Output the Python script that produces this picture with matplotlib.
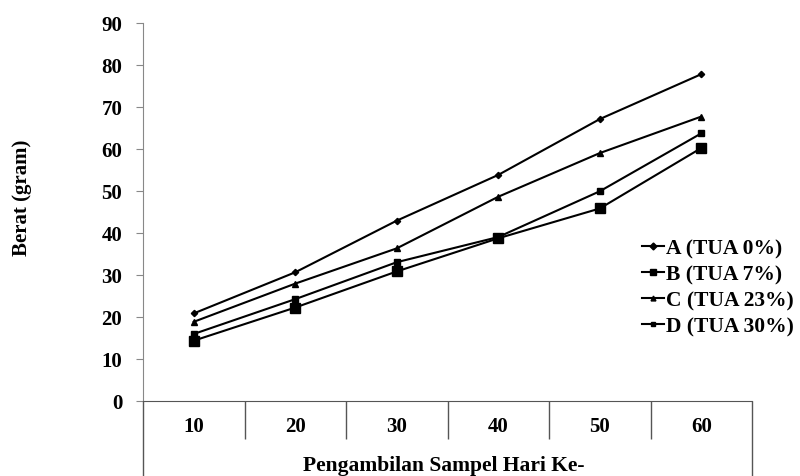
import numpy as np
import matplotlib.pyplot as plt

plt.rcParams['font.family'] = ['Liberation Serif', 'DejaVu Serif']
plt.rcParams['font.weight'] = 'bold'

hari = ['10', '20', '30', '40', '50', '60']
a_tua0 = [20.8, 30.6, 42.9, 53.8, 67.1, 77.8]
b_tua7 = [14.3, 22.2, 30.8, 38.7, 45.8, 60.2]
c_tua23 = [18.8, 27.9, 36.3, 48.6, 59.0, 67.7]
d_tua30 = [15.9, 24.2, 33.0, 39.0, 49.9, 63.7]

fig = plt.figure(figsize=(8, 4.77), dpi=100)
ax = fig.add_axes([143/800, (477-401.7)/477, (752-143)/800, (401.7-24)/477])

x = np.arange(len(hari)) + 0.5
ax.plot(x, a_tua0, color='black', lw=1.5, marker='D', ms=3.2, label='A (TUA 0%)')
ax.plot(x, b_tua7, color='black', lw=1.5, marker='s', ms=6.5, label='B (TUA 7%)')
ax.plot(x, c_tua23, color='black', lw=1.5, marker='^', ms=4.5, label='C (TUA 23%)')
ax.plot(x, d_tua30, color='black', lw=1.5, marker='s', ms=4.5, label='D (TUA 30%)')

ax.set_xlim(0, len(hari))
ax.set_ylim(0, 90)
ax.set_yticks(range(0, 91, 10))
ax.tick_params(axis='y', length=5, color='#888888', labelsize=15, pad=10)
ax.set_xticks(x)
ax.set_xticklabels(hari)
ax.tick_params(axis='x', length=0, labelsize=15, pad=11)

for s in ['top', 'right']:
    ax.spines[s].set_visible(False)
ax.spines['left'].set_color('#888888')
ax.spines['bottom'].set_color('#555555')

# category table below the axis
cell_bottom = -(440 - 401.7) / 4.2
box_bottom = -(480 - 401.7) / 4.2
ax.vlines(np.arange(1, len(hari)), cell_bottom, 0, colors='#555555', lw=1, clip_on=False)
ax.vlines([0, len(hari)], box_bottom, 0, colors='#555555', lw=1, clip_on=False)

fig.text(444/800, 1 - 471/477, 'Pengambilan Sampel Hari Ke-',
         ha='center', va='baseline', fontsize=15.5, fontweight='bold')
fig.text(22/800, 1 - 198/477, 'Berat (gram)', rotation=90, ha='center', va='center',
         fontsize=15, fontweight='bold')

leg = ax.legend(loc='center left', bbox_to_anchor=(0.82, 0.30), frameon=False,
                fontsize=15.5, handlelength=1.0, handletextpad=0.1, labelspacing=0.28,
                borderaxespad=0, borderpad=0)
for h, ms in zip(leg.legend_handles, [3.5, 5, 3.5, 3.5]):
    h.set_markersize(ms)

fig.savefig('out.png', dpi=100)
